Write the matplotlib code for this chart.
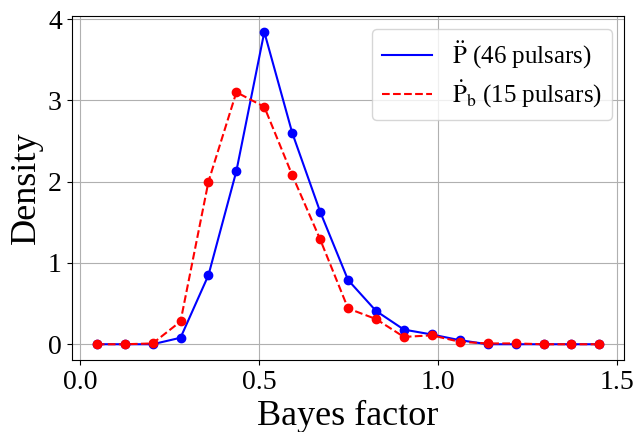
import matplotlib
matplotlib.use("Agg")
import matplotlib.pyplot as plt
import numpy as np

plt.rcParams['font.family'] = ['Liberation Serif', 'DejaVu Serif']
plt.rcParams['mathtext.fontset'] = 'stix'

x = [0.047, 0.125, 0.203, 0.281, 0.359, 0.437, 0.515, 0.593, 0.671, 0.749,
     0.827, 0.905, 0.983, 1.061, 1.139, 1.217, 1.295, 1.373, 1.451]
pdd = [0, 0, 0, 0.08, 0.85, 2.13, 3.84, 2.60, 1.63, 0.79,
       0.41, 0.18, 0.12, 0.05, 0, 0, 0, 0, 0]
pbd = [0, 0, 0.01, 0.28, 2.00, 3.10, 2.92, 2.08, 1.29, 0.44,
       0.31, 0.09, 0.11, 0.03, 0.01, 0.01, 0, 0, 0]

fig, ax = plt.subplots(figsize=(6.34, 4.32), dpi=100)
ax.plot(x, pdd, 'b-', lw=1.5, label=r'$\ddot{\rm P}$ (46 pulsars)')
ax.plot(x, pbd, 'r--', lw=1.5, label=r'$\dot{\rm P}_{\rm b}$ (15 pulsars)')
ax.plot(x, pdd, 'bo', ms=6)
ax.plot(x, pbd, 'ro', ms=6)
ax.grid(True)
ax.set_xlabel('Bayes factor', fontsize=26)
ax.set_ylabel('Density', fontsize=26)
ax.tick_params(labelsize=20)
ax.set_xticks([0.0, 0.5, 1.0, 1.5])
ax.set_yticks([0, 1, 2, 3, 4])
ax.legend(fontsize=18, labelspacing=0.3)
fig.subplots_adjust(left=0.113, right=0.985, bottom=0.167, top=0.962)
fig.savefig('out.png', dpi=100)
